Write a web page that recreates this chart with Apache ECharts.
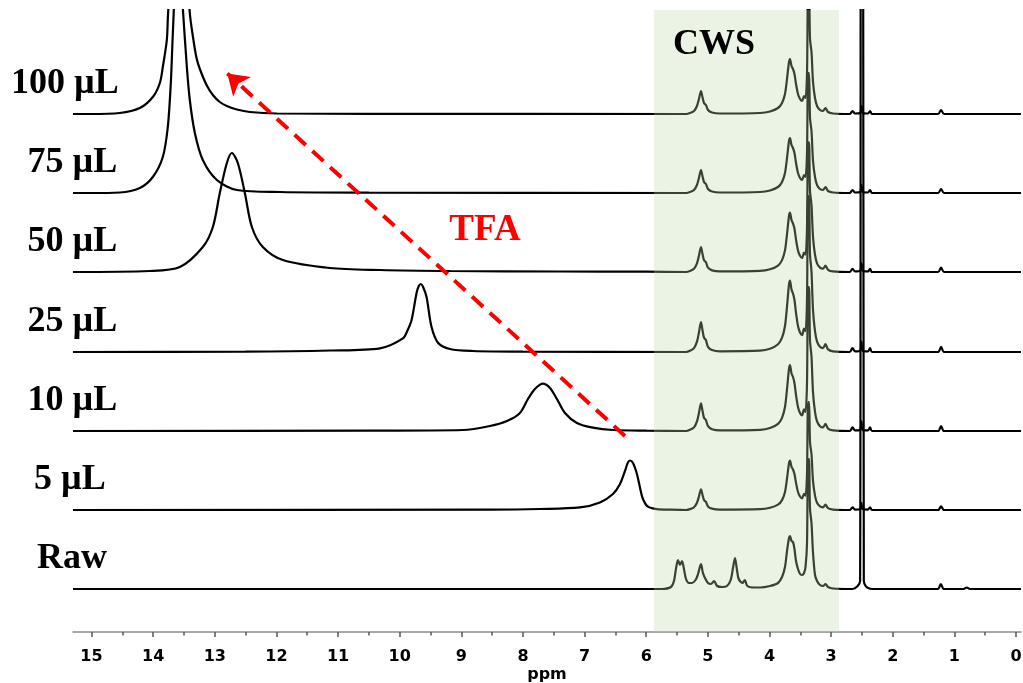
<!DOCTYPE html>
<html>
<head>
<meta charset="utf-8">
<title>1H NMR - TFA titration of CWS</title>
<script src="https://cdn.jsdelivr.net/npm/echarts@6/dist/echarts.min.js"></script>
<style>
  html, body { margin: 0; padding: 0; background: #fff; }
  #chart { width: 1023px; height: 683px; }
</style>
</head>
<body>
<div id="chart"></div>
<script>
// spectra, bottom to top
const spectrumNames = ['Raw', '5 µL', '10 µL', '25 µL', '50 µL', '75 µL', '100 µL'];
// baseline of each stacked spectrum (intensity units)
const baselineOffsets = [43, 122, 201, 280, 360, 439, 518];

// ppm axis range and tick labels
const X_MIN = -0.08;
const X_MAX = 15.3;
const Y_MAX = 622;
const tickValues = [0, 1, 2, 3, 4, 5, 6, 7, 8, 9, 10, 11, 12, 13, 14, 15];
const minorTickValues = [0.5, 1.5, 2.5, 3.5, 4.5, 5.5, 6.5, 7.5, 8.5, 9.5, 10.5, 11.5, 12.5, 13.5, 14.5];

// shaded CWS window (ppm)
const cwsWindow = [5.875, 2.872];

// [ppm, intensity]
const rawProfile = [
  [5.75, 0], [5.599, 2], [5.55, 8], [5.518, 20], [5.485, 29], [5.453, 24], [5.42, 28], [5.388, 20],
  [5.355, 10], [5.307, 6], [5.26, 6], [5.2, 9], [5.16, 15], [5.112, 25], [5.08, 16], [5.047, 11],
  [4.998, 6], [4.95, 5], [4.9, 8], [4.85, 3], [4.77, 2], [4.69, 3], [4.63, 9], [4.59, 22], [4.56, 31],
  [4.53, 20], [4.5, 10], [4.44, 6], [4.4, 9], [4.36, 3], [4.25, 1.5], [4.154, 1.5], [3.992, 3],
  [3.862, 6], [3.797, 12], [3.749, 22], [3.716, 38], [3.684, 51], [3.668, 53], [3.643, 48],
  [3.619, 47], [3.595, 40], [3.57, 28], [3.538, 20], [3.505, 15], [3.472, 14], [3.44, 16], [3.416, 22],
  [3.392, 45], [3.375, 130], [3.359, 130], [3.343, 80], [3.319, 66], [3.294, 36], [3.262, 14],
  [3.229, 8], [3.181, 4], [3.132, 3], [3.092, 5], [3.051, 2], [2.97, 0.5],
  [2.65, 0], [2.57, 3], [2.53, 8], [2.515, 900], [2.485, 900], [2.47, 8], [2.44, 3], [2.4, 1], [2.33, 0],
  [1.27, 0], [1.22, 5], [1.17, 0], [0.85, 0], [0.8, 1.5], [0.75, 0]
];

// CWS signals shared by the TFA spectra (75 µL trace)
const cwsProfile = [
  [5.35, 0], [5.29, 1], [5.225, 3], [5.177, 8], [5.145, 15], [5.112, 23], [5.088, 17], [5.063, 11],
  [5.031, 9], [4.998, 4], [4.933, 1.5], [4.804, 0.5],
  [4.154, 1], [3.992, 2.5], [3.862, 6], [3.797, 11], [3.749, 20], [3.716, 35], [3.684, 52], [3.668, 55],
  [3.643, 48], [3.619, 45], [3.595, 40], [3.57, 30], [3.538, 20], [3.505, 15], [3.472, 13], [3.44, 18],
  [3.416, 16], [3.392, 40], [3.375, 120], [3.359, 120], [3.343, 75], [3.319, 62], [3.294, 32],
  [3.262, 16], [3.229, 8], [3.181, 4], [3.132, 3], [3.092, 6], [3.051, 2], [2.97, 0.5],
  [2.7, 0], [2.653, 3], [2.613, 0.5], [2.532, 1], [2.508, 8], [2.491, 1], [2.402, 0.5], [2.369, 3], [2.337, 0],
  [1.265, 0], [1.217, 4], [1.168, 0]
];
// relative height of the CWS signals in each spectrum (index as spectrumNames)
const cwsScale = [1, 0.9, 1.2, 1.3, 1.08, 1.0, 1.0];

// TFA acid peak of each titration step
const tfa5 = [
  [8.5, 0.3], [7.725, 1], [7.075, 2.6], [6.751, 7.6], [6.54, 16], [6.426, 26], [6.345, 39], [6.297, 47.6],
  [6.264, 49.5], [6.215, 47], [6.151, 36], [6.102, 22.6], [6.053, 11], [5.972, 3.3], [5.826, 0.8], [5.6, 0.3]
];
const tfa10 = [
  [10.5, 0.3], [8.974, 1], [8.536, 5], [8.26, 10], [8.049, 18], [7.919, 32], [7.806, 42], [7.676, 47.3],
  [7.562, 43], [7.449, 32], [7.319, 18], [7.124, 8], [6.865, 3.3], [6.54, 1], [6.0, 0.3]
];
const tfa25 = [
  [12.5, 0.3], [11.13, 1.5], [10.321, 3.7], [9.948, 13.6], [9.87, 22], [9.807, 32], [9.726, 59], [9.69, 66],
  [9.656, 68], [9.62, 65], [9.564, 55], [9.483, 25], [9.375, 9], [9.185, 3], [8.812, 1], [8.0, 0.3]
];
const tfa50 = [
  [14.054, 1], [13.567, 5], [13.194, 25], [13.031, 45], [12.918, 79], [12.804, 109], [12.723, 119],
  [12.626, 109], [12.512, 79], [12.398, 45], [12.22, 25], [11.895, 12], [11.133, 4], [10.321, 2],
  [9.185, 1], [7.4, 0.5], [6.0, 0.3]
];
const tfa75 = [
  [15.03, 0], [14.541, 0.5], [14.216, 5], [14.005, 16], [13.843, 36], [13.762, 66], [13.713, 110],
  [13.68, 160], [13.599, 260], [13.513, 180], [13.453, 126], [13.405, 93], [13.323, 60], [13.194, 33],
  [12.966, 13], [12.642, 3], [11.944, 1], [10.5, 0.3]
];
const tfa100 = [
  [15.03, 0], [14.541, 1], [14.216, 6], [14.005, 17], [13.891, 31], [13.843, 47], [13.778, 74],
  [13.757, 101], [13.583, 250], [13.405, 101], [13.351, 76], [13.296, 56], [13.242, 45], [13.133, 29],
  [13.031, 19], [12.918, 12], [12.804, 8], [12.642, 4.5], [12.431, 2], [11.993, 0.5], [10.5, 0.2]
];
const tfaPeaks = [null, tfa5, tfa10, tfa25, tfa50, tfa75, tfa100];

// arrow of the TFA shift: [ppm, intensity] of tail and head
const arrowFrom = [6.345, 196];
const arrowTo = [12.796, 558.5];

const FONT_SERIF = '"Liberation Serif", "Times New Roman", serif';
const FONT_SANS = '"DejaVu Sans", Verdana, sans-serif';

function spectrumData(i) {
  let pts;
  if (i === 0) {
    pts = rawProfile.slice();
  } else {
    const k = cwsScale[i];
    pts = tfaPeaks[i].concat(cwsProfile.map(p => [p[0], p[1] * k]));
  }
  pts.push([X_MAX, 0], [X_MIN, 0]);
  pts.sort((a, b) => b[0] - a[0]);
  return pts.map(p => [p[0], p[1] + baselineOffsets[i]]);
}

const series = spectrumNames.map((name, i) => {
  const s = {
    name: name,
    type: 'line',
    data: spectrumData(i),
    showSymbol: false,
    symbol: 'none',
    smooth: 0.3,
    clip: true,
    silent: true,
    lineStyle: { color: '#000', width: 2.2 },
    z: 2
  };
  if (i === 0) {
    s.markArea = {
      silent: true,
      z: 10,
      itemStyle: { color: 'rgba(190,214,165,0.3)' },
      data: [[{ coord: [cwsWindow[0], 0] }, { coord: [cwsWindow[1], Y_MAX] }]]
    };
  }
  if (i === spectrumNames.length - 1) {
    s.markLine = {
      silent: true,
      z: 11,
      symbol: ['none', 'arrow'],
      symbolSize: 20,
      label: { show: false },
      lineStyle: { color: '#ff0000', width: 4, type: [15, 9] },
      data: [[{ coord: arrowFrom }, { coord: arrowTo }]]
    };
  }
  return s;
});

const chart = echarts.init(document.getElementById('chart'), null, { renderer: 'canvas' });

chart.setOption({
  animation: false,
  backgroundColor: '#fff',
  grid: { left: 73, right: 2, top: 10, bottom: 51, containLabel: false, outerBoundsMode: 'none' },
  xAxis: [
    {
      type: 'value',
      min: X_MIN,
      max: X_MAX,
      inverse: true,
      name: 'ppm',
      nameLocation: 'middle',
      nameGap: 35,
      nameMoveOverlap: false,
      nameTextStyle: { fontFamily: FONT_SANS, fontWeight: 'bold', fontSize: 16, color: '#000' },
      axisLine: { lineStyle: { color: '#8a8a8a', width: 1.5 } },
      axisTick: { customValues: tickValues, length: 5, lineStyle: { color: '#555', width: 1.5 } },
      axisLabel: {
        customValues: tickValues,
        margin: 17,
        fontFamily: FONT_SANS,
        fontWeight: 'bold',
        fontSize: 16,
        color: '#000'
      },
      splitLine: { show: false }
    },
    {
      type: 'value',
      min: X_MIN,
      max: X_MAX,
      inverse: true,
      position: 'bottom',
      axisLine: { show: false },
      axisTick: { customValues: minorTickValues, length: 3.5, lineStyle: { color: '#555', width: 1.5 } },
      axisLabel: { show: false },
      splitLine: { show: false }
    }
  ],
  yAxis: { type: 'value', min: 0, max: Y_MAX, show: false },
  series: series
});

// text labels: spectrum names, CWS and TFA
const labelX = [72, 70, 72.5, 72.5, 72.5, 72.5, 65];
const texts = spectrumNames.map((name, i) => ({
  type: 'text',
  z: 100,
  x: labelX[i],
  y: chart.convertToPixel({ yAxisIndex: 0 }, baselineOffsets[i]) - 30,
  style: {
    text: name,
    font: 'bold 36px ' + FONT_SERIF,
    fill: '#000',
    textAlign: 'center',
    textVerticalAlign: 'middle'
  }
}));
texts.push({
  type: 'text', z: 100, x: 714, y: 45,
  style: { text: 'CWS', font: 'bold 36px ' + FONT_SERIF, fill: '#000', textAlign: 'center', textVerticalAlign: 'middle' }
});
texts.push({
  type: 'text', z: 100, x: 485, y: 230,
  style: { text: 'TFA', font: 'bold 37px ' + FONT_SERIF, fill: '#ff0000', textAlign: 'center', textVerticalAlign: 'middle' }
});

chart.setOption({ graphic: texts });
</script>
</body>
</html>
